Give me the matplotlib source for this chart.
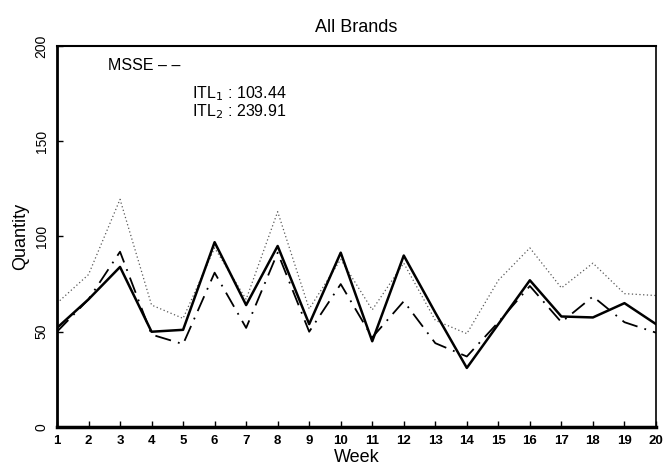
import matplotlib
matplotlib.use("Agg")
import matplotlib.pyplot as plt
import numpy as np

weeks = list(range(1, 21))

actual = [52, 67, 84, 50, 51, 97, 64, 95, 54, 91.5,
          45, 90, 60, 31, 54, 77, 58, 57.5, 65, 54]

msse = [50, 67, 92, 48.5, 43.5, 81, 52, 91.5, 50, 75,
        47, 66, 44, 37, 55, 74, 55, 68.5, 55, 49.5]

upper = [65, 80, 119.5, 64, 57, 94, 67, 113, 62, 88,
         61.5, 86, 56, 49, 77, 94, 73, 86, 70, 69]

y_ticks = [0, 50, 100, 150, 200]

plt.rcParams["font.family"] = ["Liberation Sans", "DejaVu Sans"]

fig = plt.figure(figsize=(6.68, 4.74), dpi=100)
ax = fig.add_axes([0.0853, 0.0992, 0.8967, 0.8038])

ax.plot(weeks, upper, linestyle=(0, (1, 2)), color="0.35", linewidth=0.9)
ax.plot(weeks, msse, linestyle=(0, (9, 4, 1, 4)), color="black", linewidth=1.3)
ax.plot(weeks, actual, linestyle="-", color="black", linewidth=1.8)

ax.set_xlim(1, 20)
ax.set_ylim(0, 200)
ax.set_xticks(weeks)
ax.set_xticklabels([str(w) for w in weeks], fontsize=9.5, fontweight="bold")
ax.set_yticks(y_ticks)
ax.set_yticklabels([str(v) for v in y_ticks], fontsize=10, rotation=90, va="center")
ax.tick_params(direction="in", length=4, width=1)
ax.tick_params(axis="x", pad=6)
ax.tick_params(axis="y", pad=6)

ax.spines["bottom"].set_linewidth(2.5)
ax.spines["left"].set_linewidth(2.0)
ax.spines["top"].set_linewidth(1.5)
ax.spines["right"].set_linewidth(1.2)

ax.set_title("All Brands", fontsize=13, pad=10)
ax.set_xlabel("Week", fontsize=13, labelpad=1)
ax.set_ylabel("Quantity", fontsize=13, labelpad=4)

ax.text(0.085, 0.95, "MSSE \u2012 \u2012", transform=ax.transAxes,
        fontsize=11.5, va="center", ha="left")
ax.text(0.226, 0.875, "ITL$_1$ : 103.44", transform=ax.transAxes,
        fontsize=11.5, va="center", ha="left")
ax.text(0.226, 0.827, "ITL$_2$ : 239.91", transform=ax.transAxes,
        fontsize=11.5, va="center", ha="left")

fig.savefig("out.png", dpi=100)
plt.close(fig)
